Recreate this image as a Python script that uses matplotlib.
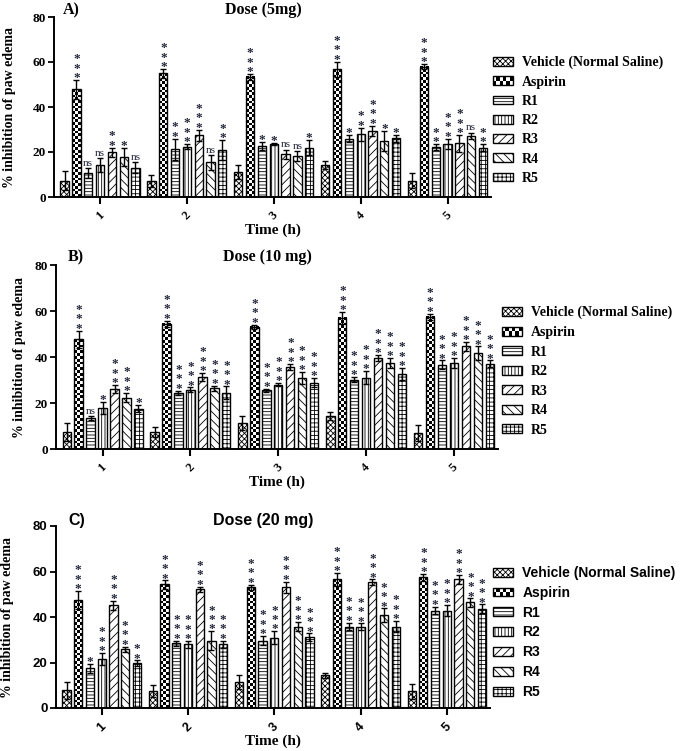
import numpy as np
import matplotlib
matplotlib.use("Agg")
import matplotlib.pyplot as plt
from matplotlib.patches import Rectangle, Patch
from matplotlib.legend_handler import HandlerBase

plt.rcParams['hatch.linewidth'] = 0.6

# ---------------- data ----------------
times = [1, 2, 3, 4, 5]
treatments = ['Vehicle (Normal Saline)', 'Aspirin', 'R1', 'R2', 'R3', 'R4', 'R5']

# rows = treatments, columns = time points (h)
mean_5mg = [[7.2, 7.2, 11.1, 14.3, 7.2],
            [47.8, 54.9, 53.4, 56.8, 57.9],
            [10.6, 21.3, 22.7, 26.0, 22.3],
            [14.3, 22.4, 23.6, 27.9, 23.6],
            [19.9, 27.5, 19.0, 29.5, 23.9],
            [17.7, 15.4, 18.3, 24.9, 27.2],
            [13.1, 21.0, 22.0, 26.1, 22.0]]
sem_5mg = [[4.2, 2.7, 3.2, 1.8, 3.4],
           [4.2, 1.9, 1.2, 3.4, 1.1],
           [2.2, 4.7, 1.7, 1.6, 1.3],
           [3.0, 1.2, 0.6, 2.9, 2.4],
           [2.1, 2.5, 2.0, 2.2, 3.7],
           [4.0, 3.3, 2.1, 4.6, 1.4],
           [2.3, 4.4, 3.4, 1.5, 1.5]]
sig_5mg = [['', '', '', '', ''],
           ['***', '***', '***', '***', '***'],
           ['ns', '**', '*', '*', '**'],
           ['ns', '***', '*', '**', '***'],
           ['**', '***', 'ns', '***', '***'],
           ['*', 'ns', 'ns', '*', 'ns'],
           ['ns', '**', '*', '*', '**']]

mean_10mg = [[7.4, 7.4, 11.3, 14.2, 6.9],
             [47.7, 54.5, 53.2, 57.0, 57.4],
             [13.5, 24.4, 25.5, 30.1, 36.7],
             [17.8, 25.8, 27.9, 31.0, 37.3],
             [26.2, 31.2, 35.6, 39.6, 44.6],
             [22.3, 26.5, 30.8, 37.3, 41.7],
             [17.6, 24.4, 28.8, 32.5, 37.0]]
sem_10mg = [[3.9, 2.0, 2.9, 1.7, 3.5],
            [3.8, 1.3, 0.9, 2.6, 1.5],
            [0.7, 0.9, 0.8, 1.1, 1.8],
            [2.6, 1.0, 0.7, 2.9, 2.2],
            [1.7, 1.8, 1.3, 1.3, 2.0],
            [2.0, 1.1, 2.6, 2.2, 2.9],
            [1.5, 2.8, 2.0, 2.7, 1.5]]
sig_10mg = [['', '', '', '', ''],
            ['***', '***', '***', '***', '***'],
            ['ns', '***', '***', '***', '***'],
            ['*', '***', '***', '***', '***'],
            ['***', '***', '***', '***', '***'],
            ['***', '***', '***', '***', '***'],
            ['*', '***', '***', '***', '***']]

mean_20mg = [[7.7, 7.3, 11.4, 14.3, 7.3],
             [47.4, 54.3, 53.1, 56.6, 57.4],
             [17.5, 28.5, 29.6, 35.8, 42.8],
             [21.5, 28.0, 30.9, 35.8, 42.8],
             [45.1, 52.1, 53.0, 55.3, 56.5],
             [25.8, 29.6, 35.8, 40.9, 46.4],
             [19.7, 28.0, 31.1, 35.8, 43.7]]
sem_20mg = [[3.7, 2.6, 3.2, 1.0, 3.4],
            [4.0, 1.8, 1.1, 2.8, 1.4],
            [1.9, 1.1, 2.1, 1.7, 1.7],
            [2.6, 1.5, 2.8, 1.4, 2.5],
            [2.1, 1.2, 2.6, 1.2, 2.0],
            [1.2, 4.1, 2.0, 2.9, 1.8],
            [1.2, 1.6, 1.7, 2.4, 1.8]]
sig_20mg = [['', '', '', '', ''],
            ['***', '***', '***', '***', '***'],
            ['*', '***', '***', '***', '***'],
            ['***', '***', '***', '***', '***'],
            ['***', '***', '***', '***', '***'],
            ['***', '***', '***', '***', '***'],
            ['**', '***', '***', '***', '***']]

yticks = [0, 20, 40, 60, 80]

# ---------------- styling ----------------
W, H = 685, 751
SERIF = 'Liberation Serif'
SANS = 'Liberation Sans'
hatches = ['xxxxxx', None, '-----', '|||||', '////', '\\\\\\\\', '++++']
pitch = 0.136
barw = 0.095
XLIM = (0.47, 5.5)
star_color = '#23263a'

fig = plt.figure(figsize=(W / 100, H / 100), dpi=100)


def px_axes(left, right, top, bottom):
    return fig.add_axes([left / W, 1 - bottom / H, (right - left) / W, (bottom - top) / H])


class CheckerHandler(HandlerBase):
    def create_artists(self, legend, orig_handle, xdescent, ydescent,
                       width, height, fontsize, trans):
        arts = []
        nc, nr = 6, 2
        cw, ch = width / nc, height / nr
        for i in range(nc):
            for j in range(nr):
                if (i + j) % 2 == 0:
                    arts.append(Rectangle((-xdescent + i * cw, -ydescent + j * ch), cw, ch,
                                          facecolor='black', edgecolor='none', transform=trans))
        arts.append(Rectangle((-xdescent, -ydescent), width, height, facecolor='none',
                              edgecolor='black', linewidth=1.0, transform=trans))
        return arts


def panel(rect, means, sems, sigs, letter, title, font, title_pos, letter_pos,
          ylabel_x, leg_pos, legend_gap):
    left, right, top, bottom = rect
    ax = px_axes(left, right, top, bottom)
    ax.set_xlim(*XLIM)
    ax.set_ylim(0, 80)
    ax_w_px = right - left
    ax_h_px = bottom - top
    px_per_x = ax_w_px / (XLIM[1] - XLIM[0])
    px_per_y = ax_h_px / 80.0

    for j, name in enumerate(treatments):
        xs = np.array(times, dtype=float) + (j - 3) * pitch
        m = np.array(means[j])
        e = np.array(sems[j])
        if j == 1:
            ax.bar(xs, m, barw, facecolor='none', edgecolor='black', linewidth=1.0, zorder=3)
            for xc, mv in zip(xs, m):
                ncol = 3
                nrow = max(1, int(round(mv * px_per_y / (barw * px_per_x / ncol))))
                chk = (np.add.outer(np.arange(nrow), np.arange(ncol)) % 2).astype(float)
                ax.imshow(chk, extent=(xc - barw / 2, xc + barw / 2, 0, mv), cmap='gray',
                          vmin=0, vmax=1, interpolation='nearest', aspect='auto', zorder=2)
        else:
            ax.bar(xs, m, barw, facecolor='white', edgecolor='black', hatch=hatches[j],
                   linewidth=1.0, zorder=2)
        ax.errorbar(xs, m, yerr=e, fmt='none', ecolor='black', elinewidth=1.0,
                    capsize=2.2, capthick=1.0, zorder=4)
        for xc, mv, ev, s in zip(xs, m, e, sigs[j]):
            if s == 'ns':
                ax.annotate('ns', xy=(xc, mv + ev), xytext=(0, 0.2), textcoords='offset points',
                            ha='center', va='bottom', fontsize=8, family=SERIF,
                            color=star_color, zorder=5)
            elif s:
                ax.annotate('\n'.join(s), xy=(xc, mv + ev), xytext=(0, -3.0),
                            textcoords='offset points', ha='center', va='bottom',
                            fontsize=9.5, family=SERIF, fontweight='bold', linespacing=0.72,
                            color=star_color, zorder=5)

    ax.set_xlim(*XLIM)
    ax.set_ylim(0, 80)
    for sp in ['top', 'right']:
        ax.spines[sp].set_visible(False)
    for sp in ['left', 'bottom']:
        ax.spines[sp].set_linewidth(1.4)
    ax.set_xticks(times)
    ax.set_xticklabels([str(t) for t in times], rotation=45, ha='center', va='top',
                       family=font, fontweight='bold', fontsize=9)
    ax.set_yticks(yticks)
    ax.set_yticklabels([str(t) for t in yticks], family=font, fontweight='bold', fontsize=9.5)
    ax.tick_params(axis='x', direction='out', length=5, width=1.5, pad=4)
    ax.tick_params(axis='y', direction='out', length=4, width=1.3, pad=2)
    ax.set_xlabel('Time (h)', family=SERIF, fontweight='bold', fontsize=11)
    ax.xaxis.set_label_coords(0.5, -33 / ax_h_px, transform=ax.transAxes)
    ax.xaxis.label.set_va('center')
    ax.set_ylabel('% inhibition of paw edema', family=SERIF, fontweight='bold', fontsize=10)
    ax.yaxis.set_label_coords((ylabel_x - left) / ax_w_px, 0.5, transform=ax.transAxes)
    ax.yaxis.label.set_va('center')

    fig.text(title_pos[0] / W, 1 - title_pos[1] / H, title, ha='center', va='center',
             family=font, fontweight='bold', fontsize=11.5)
    fig.text(letter_pos[0] / W, 1 - letter_pos[1] / H, letter, ha='left', va='center',
             family=font, fontweight='bold', fontsize=11.5)

    handles = []
    hmap = {}
    for j, name in enumerate(treatments):
        if j == 1:
            hd = Patch(facecolor='white', edgecolor='black')
            hmap[hd] = CheckerHandler()
        else:
            hd = Patch(facecolor='white', edgecolor='black', hatch=hatches[j], linewidth=1.0)
        handles.append(hd)
    fig.legend(handles, treatments, handler_map=hmap, loc='upper left',
               bbox_to_anchor=(leg_pos[0] / W, 1 - leg_pos[1] / H), bbox_transform=fig.transFigure,
               frameon=False, borderpad=0, borderaxespad=0, handlelength=1.45, handleheight=0.6,
               handletextpad=0.65, labelspacing=legend_gap,
               prop={'family': font, 'weight': 'bold', 'size': 10})
    return ax


panel((54, 491, 17, 197), mean_5mg, sem_5mg, sig_5mg, 'A)', 'Dose (5mg)', SERIF,
      (263, 10), (63, 10), 9, (493, 56), 0.45)
panel((56, 498, 265, 449), mean_10mg, sem_10mg, sig_10mg, 'B)', 'Dose (10 mg)', SERIF,
      (267, 257), (68, 257), 19, (502, 306), 0.47)
panel((56, 490, 526, 708), mean_20mg, sem_20mg, sig_20mg, 'C)', 'Dose (20 mg)', SANS,
      (263, 520), (68, 520), 8, (493, 566), 0.42)

fig.savefig('out.png', dpi=100)
